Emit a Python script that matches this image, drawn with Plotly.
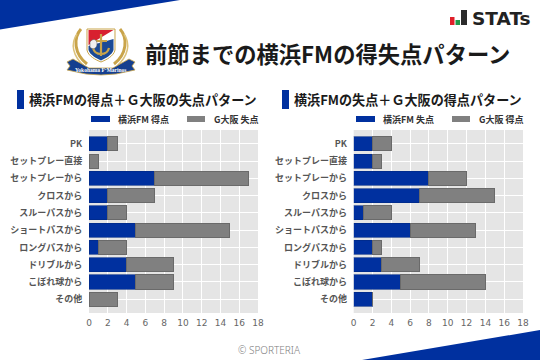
import plotly.graph_objects as go

categories = ["PK", "セットプレー直接", "セットプレーから", "クロスから", "スルーパスから",
              "ショートパスから", "ロングパスから", "ドリブルから", "こぼれ球から", "その他"]
left_fm_scored = [2, 0, 7, 2, 2, 5, 1, 4, 5, 0]
left_osaka_conceded = [1, 1, 10, 5, 2, 10, 3, 5, 4, 3]
right_fm_conceded = [2, 2, 8, 7, 1, 6, 2, 3, 5, 2]
right_osaka_scored = [2, 1, 4, 8, 3, 7, 1, 4, 9, 0]
x_ticks = list(range(0, 19, 2))

title = "前節までの横浜FMの得失点パターン"
left_title = "横浜FMの得点＋Ｇ大阪の失点パターン"
right_title = "横浜FMの失点＋Ｇ大阪の得点パターン"
legend_labels = ["横浜FM 得点", "G大阪 失点", "横浜FM 失点", "G大阪 得点"]

W, H = 540, 360
BLUE, GREY = "#00309f", "#808080"
JP = "Noto Sans CJK JP"


def px(x):
    return x / W


def py(y):
    return 1 - y / H


def poly(points, color, width=0, line=None):
    path = "M " + " L ".join(f"{px(x):.5f},{py(y):.5f}" for x, y in points) + " Z"
    return dict(type="path", xref="paper", yref="paper", path=path, fillcolor=color,
                line=dict(width=width, color=line or color), layer="above")


def curve(d, color, width=2.0, fill=None):
    out = []
    for tok in d.split():
        if "," in tok:
            x, y = tok.split(",")
            out.append(f"{px(float(x)):.5f},{py(float(y)):.5f}")
        else:
            out.append(tok)
    return dict(type="path", xref="paper", yref="paper", path=" ".join(out),
                fillcolor=fill or "rgba(0,0,0,0)", line=dict(width=width, color=color), layer="above")


def rect(x0, y0, x1, y1, color):
    return dict(type="rect", xref="paper", yref="paper", x0=px(x0), x1=px(x1), y0=py(y1), y1=py(y0),
                fillcolor=color, line=dict(width=0), layer="above")


def text(x, y, s, size, color="#1a1a1a", anchor="left", weight=400, family=JP):
    return dict(xref="paper", yref="paper", x=px(x), y=py(y), text=s, showarrow=False, xanchor=anchor,
                yanchor="middle", align=anchor, font=dict(size=size, color=color, family=family, weight=weight))


fig = go.Figure()
panels = [("x", "y", left_fm_scored, left_osaka_conceded, legend_labels[:2]),
          ("x2", "y2", right_fm_conceded, right_osaka_scored, legend_labels[2:])]
for xa, ya, blue, grey, names in panels:
    fig.add_bar(y=categories, x=blue, orientation="h", xaxis=xa, yaxis=ya, name=names[0], width=0.82,
                marker=dict(color=BLUE, line=dict(color="rgba(0,40,130,0.6)", width=1)))
    fig.add_bar(y=categories, x=grey, orientation="h", xaxis=xa, yaxis=ya, name=names[1], width=0.82,
                marker=dict(color=GREY, line=dict(color="#6a6a6a", width=1)))

xcommon = dict(range=[0, 18], tickvals=x_ticks, showgrid=True, gridcolor="white", gridwidth=1.2, zeroline=False,
               showline=False, ticks="outside", ticklen=1, tickcolor="rgba(0,0,0,0)",
               tickfont=dict(size=9, color="#666666", family="DejaVu Sans"))
ycommon = dict(range=[9.8, -0.8], type="category", categoryorder="array", categoryarray=categories,
               showgrid=True, gridcolor="white", gridwidth=1.2, showline=False, zeroline=False,
               ticks="outside", ticklen=4, tickcolor="rgba(0,0,0,0)",
               tickfont=dict(size=9, color="#555555", family=JP, weight=700))

shapes = [
    poly([(0, 0), (180, 0), (0, 29.5)], BLUE),
    poly([(362, 360), (540, 330), (540, 360)], BLUE),
    rect(17, 90, 24, 109, BLUE), rect(282, 90, 289, 109, BLUE),
    rect(91, 116, 110, 122, BLUE), rect(187, 116, 205, 122, GREY),
    rect(356, 116, 375, 122, BLUE), rect(452, 116, 470, 122, GREY),
    # STATs mark
    rect(450, 17, 454.5, 25, "#e0202a"), rect(455.5, 20, 460, 25, "#1f9a4a"), rect(461, 10, 467, 25, "#2b2b2b"),
    # crest: laurel
    curve("M 81,29 C 73,38 74,54 87,64", "#c9a44a", 3),
    curve("M 120,29 C 128,38 127,54 114,64", "#c9a44a", 3),
    curve("M 77,34 C 70,44 73,56 84,66", "#dcc27a", 1.5),
    curve("M 124,34 C 131,44 128,56 117,66", "#dcc27a", 1.5),
    # crest: shield
    curve("M 87,29 L 115,29 L 115,50 C 114,56 106,60 101,62 C 96,60 88,56 87,50 Z", "#c9a44a", 1, "#ffffff"),
    poly([(88.5, 30), (113.5, 30), (88.5, 45)], "#d8202f"),
    curve("M 88.5,46 L 113.5,39 L 113.5,50 C 112,55 106,58 101,60.5 C 96,58 90,55 88.5,50 Z", "#1b4a96", 0, "#1b4a96"),
    curve("M 101,34 L 101,56 M 95,41 L 107,41 M 93,48 C 95,56 107,56 109,48", "#c9a44a", 2.2),
    curve("M 90,42 C 93,38 97,39 97,44 C 97,49 92,50 90,47 Z", "#555555", 0.5, "#f0f0f0"),
    # crest: ribbon
    poly([(67, 62), (73, 59), (89, 68), (113, 68), (129, 59), (135, 62), (132, 66), (135, 70),
          (116, 74), (101, 75), (86, 74), (67, 70), (70, 66)], "#153f8f", 0.8, "#c9a44a"),
]

annotations = [
    text(143, 52.5, title, 22.3, weight=700),
    text(26.5, 99.5, left_title, 13.1, weight=700),
    text(291.5, 99.5, right_title, 13.1, weight=700),
    text(115.5, 119.5, legend_labels[0], 9, "#333333", weight=700),
    text(212, 119.5, legend_labels[1], 9, "#333333", weight=700),
    text(380.5, 119.5, legend_labels[2], 9, "#333333", weight=700),
    text(477, 119.5, legend_labels[3], 9, "#333333", weight=700),
    text(470, 18, "STATs", 18.5, "#222222", weight=700, family="DejaVu Sans"),
    text(269, 350, "© SPORTERIA", 10, "#808080", anchor="center", weight=300, family="Noto Sans"),
    text(101, 69.5, "Yokohama F·Marinos", 5.5, "#ffffff", anchor="center", weight=700, family="Liberation Serif"),
]

fig.update_layout(
    width=W, height=H, autosize=False, margin=dict(l=0, r=0, t=0, b=0, pad=0, autoexpand=False),
    barmode="stack", showlegend=False,
    paper_bgcolor="white", plot_bgcolor="#e5e5e5", bargap=0.18, shapes=shapes, annotations=annotations,
    xaxis=dict(domain=[px(89), px(258)], anchor="y", **xcommon),
    xaxis2=dict(domain=[px(353.7), px(523)], anchor="y2", **xcommon),
    yaxis=dict(domain=[py(313), py(130)], anchor="x", **ycommon),
    yaxis2=dict(domain=[py(313), py(130)], anchor="x2", **ycommon),
)
fig.write_html("out.html", config=dict(displayModeBar=False),
               post_script="document.body.style.margin='0';document.body.style.overflow='hidden';")
